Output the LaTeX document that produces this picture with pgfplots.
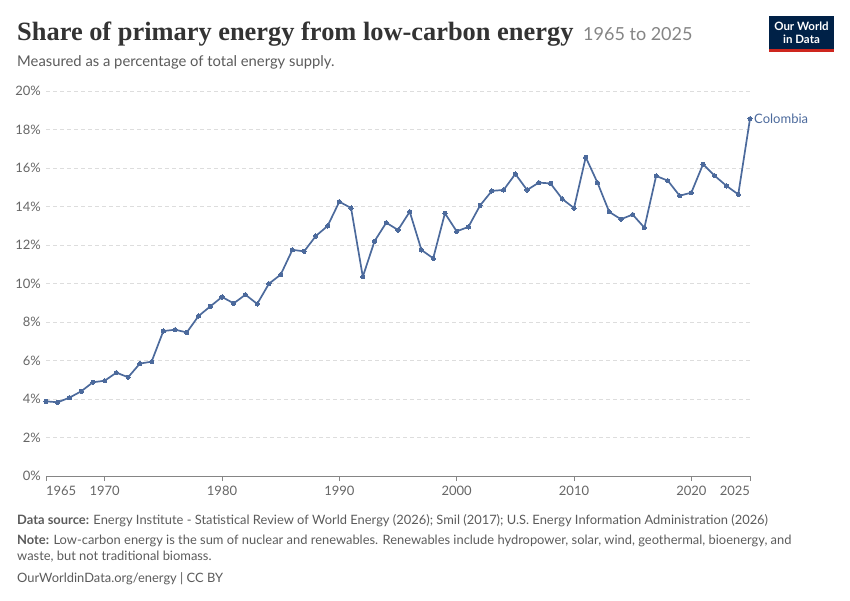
\documentclass[border=0pt]{standalone}
\usepackage{fontspec}
\setmainfont{Lato}
\newfontfamily\titlefont{Liberation Serif}
\usepackage{pgfplots}
\pgfplotsset{compat=1.18}
\definecolor{owidline}{HTML}{4C6A9C}
\definecolor{titlegray}{HTML}{333333}
\definecolor{subgray}{HTML}{5B5B5B}
\definecolor{lightgray}{HTML}{858585}
\definecolor{tickgray}{HTML}{666666}
\definecolor{gridgray}{HTML}{DDDDDD}
\definecolor{owidnavy}{HTML}{002147}
\definecolor{owidred}{HTML}{CE261E}
\pgfplotstableread{
year value
1965 3.88
1966 3.83
1967 4.07
1968 4.40
1969 4.87
1970 4.95
1971 5.37
1972 5.13
1973 5.84
1974 5.94
1975 7.53
1976 7.60
1977 7.46
1978 8.31
1979 8.81
1980 9.30
1981 8.97
1982 9.42
1983 8.94
1984 9.99
1985 10.46
1986 11.75
1987 11.67
1988 12.47
1989 12.99
1990 14.25
1991 13.92
1992 10.35
1993 12.20
1994 13.16
1995 12.78
1996 13.73
1997 11.74
1998 11.31
1999 13.65
2000 12.71
2001 12.94
2002 14.06
2003 14.81
2004 14.86
2005 15.69
2006 14.86
2007 15.24
2008 15.20
2009 14.39
2010 13.92
2011 16.56
2012 15.24
2013 13.72
2014 13.34
2015 13.58
2016 12.90
2017 15.59
2018 15.34
2019 14.56
2020 14.72
2021 16.20
2022 15.59
2023 15.07
2024 14.63
2025 18.56
}\colombia
\begin{document}
\begin{tikzpicture}
\path[use as bounding box] (0pt,0pt) rectangle (850pt,-600pt);
% title
\node[anchor=base west, inner sep=0, text=titlegray, font=\titlefont\bfseries\fontsize{26.4}{30}\selectfont] at (17pt,-40pt) {Share of primary energy from low-carbon energy};
\node[anchor=base west, inner sep=0, text=lightgray, font=\fontsize{18}{22}\selectfont] at (583pt,-40pt) {1965 to 2025};
\node[anchor=base west, inner sep=0, text=subgray, font=\fontsize{14.8}{17}\selectfont] at (17pt,-66pt) {Measured as a percentage of total energy supply.};
% logo
\fill[owidnavy] (769pt,-16pt) rectangle (834pt,-49pt);
\fill[owidred] (769pt,-49pt) rectangle (834pt,-52pt);
\node[anchor=base, inner sep=0, text=white, font=\bfseries\fontsize{11.5}{14}\selectfont] at (801.5pt,-30.5pt) {Our World};
\node[anchor=base, inner sep=0, text=white, font=\bfseries\fontsize{11.5}{14}\selectfont] at (801.5pt,-43pt) {in Data};
\begin{axis}[
  at={(46pt,-476pt)}, anchor=south west,
  scale only axis, width=704pt, height=385pt,
  xmin=1965, xmax=2025, ymin=0, ymax=20,
  axis x line*=bottom, axis y line*=left,
  x axis line style={draw=tickgray!80, line width=0.8pt, -},
  y axis line style={draw=none},
  xtick={1965,1970,1980,1990,2000,2010,2020,2025},
  xticklabels={\makebox[0pt][l]{1965},1970,1980,1990,2000,2010,2020,\makebox[0pt][r]{2025}},
  ytick={0,2,4,6,8,10,12,14,16,18,20},
  yticklabels={0\%,2\%,4\%,6\%,8\%,10\%,12\%,14\%,16\%,18\%,20\%},
  major x tick style={draw=tickgray!80, line width=0.8pt},
  major y tick style={draw=none},
  xtick align=outside, major tick length=5pt,
  ymajorgrids, major grid style={draw=gridgray, dash pattern=on 4pt off 3pt, line width=0.8pt},
  ticklabel style={font=\fontsize{13}{15}\selectfont, text=tickgray},
  yticklabel style={inner sep=0pt, xshift=-5pt},
  xticklabel style={inner sep=0pt, yshift=-5pt},
  clip=false,
]
\addplot[owidline, line width=1.7pt, line join=round, mark=*, mark size=2.1pt, mark options={solid, line width=0pt}] table[x=year, y=value] {\colombia};
\node[anchor=west, inner sep=0, text=owidline, font=\fontsize{13}{15}\selectfont] at (axis cs:2025,18.56) {\hspace{4pt}Colombia};
\end{axis}
% footer
\node[anchor=base west, inner sep=0, text=subgray, font=\fontsize{12.9}{15}\selectfont] at (17pt,-524pt) {\textbf{Data source:} Energy Institute - Statistical Review of World Energy (2026); Smil (2017); U.S. Energy Information Administration (2026)};
\node[anchor=base west, inner sep=0, text=subgray, font=\fontsize{12.9}{15}\selectfont] at (17pt,-544pt) {\textbf{Note:} Low-carbon energy is the sum of nuclear and renewables. Renewables include hydropower, solar, wind, geothermal, bioenergy, and};
\node[anchor=base west, inner sep=0, text=subgray, font=\fontsize{12.9}{15}\selectfont] at (17pt,-560pt) {waste, but not traditional biomass.};
\node[anchor=base west, inner sep=0, text=subgray, font=\fontsize{12.9}{15}\selectfont] at (17pt,-582pt) {OurWorldinData.org/energy | CC BY};
\end{tikzpicture}
\end{document}
